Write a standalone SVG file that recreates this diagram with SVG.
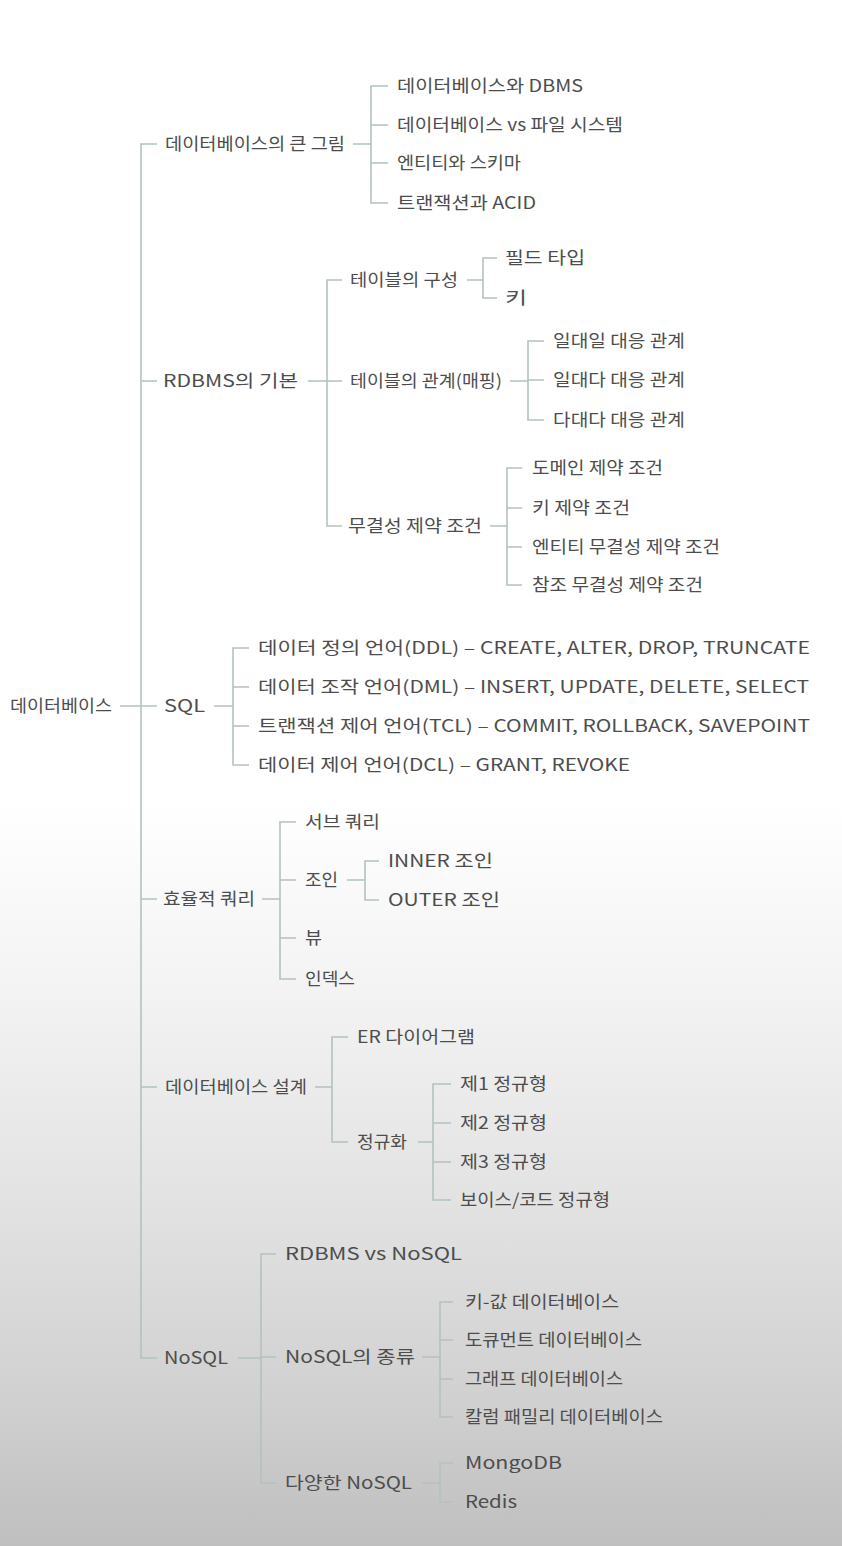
<svg xmlns="http://www.w3.org/2000/svg" width="842" height="1546" viewBox="0 0 842 1546">
<defs>
<linearGradient id="bg" x1="0" y1="0" x2="0" y2="1546" gradientUnits="userSpaceOnUse">
<stop offset="0" stop-color="#ffffff"/>
<stop offset="0.52" stop-color="#ffffff"/>
<stop offset="0.65" stop-color="#f2f2f2"/>
<stop offset="0.78" stop-color="#e2e2e2"/>
<stop offset="0.9" stop-color="#d1d1d1"/>
<stop offset="1" stop-color="#bfbfbf"/>
</linearGradient>
<style>
text{font-family:"Noto Sans CJK KR","Noto Sans",sans-serif;font-size:17px;fill:#4d4d4d;}
.c path{fill:none;stroke:#b3c2bf;stroke-width:1.6;}
</style>
</defs>
<rect x="0" y="0" width="842" height="1546" fill="url(#bg)"/>
<g class="c" id="connectors">
<path d="M120 706 H141 M157 144 H141 V1358 H157 M141 381 H157 M141 706 H157 M141 899 H157 M141 1087 H157"/>
<path d="M353 144 H371 M388 86 H371 V203 H388 M371 125 H388 M371 163 H388"/>
<path d="M308 381 H327 M342 280 H327 V526 H342 M327 381 H342"/>
<path d="M467 280 H483 M497 258 H483 V298 H497"/>
<path d="M510 381 H528 M544 341 H528 V420 H544 M528 380 H544"/>
<path d="M490 526 H507 M522 468 H507 V585 H522 M507 508 H522 M507 547 H522"/>
<path d="M214 706 H233 M249 648 H233 V765 H249 M233 687 H249 M233 726 H249"/>
<path d="M262 899 H280 M296 822 H280 V979 H296 M280 880 H296 M280 938 H296"/>
<path d="M347 880 H365 M379 861 H365 V900 H379"/>
<path d="M315 1087 H332 M348 1037 H332 V1142 H348"/>
<path d="M418 1142 H433 M451 1084 H433 V1200 H451 M433 1123 H451 M433 1162 H451"/>
<path d="M238 1358 H261 M276 1254 H261 V1483 H276 M261 1357 H276"/>
<path d="M422 1357 H440 M453 1302 H440 V1417 H453 M440 1340 H453 M440 1379 H453"/>
<path d="M422 1483 H440 M453 1463 H440 V1502 H453"/>
</g>
<g id="n-root"><text x="10" y="712" textLength="102" lengthAdjust="spacingAndGlyphs">데이터베이스</text></g>

<g id="n-bigpic"><text x="165" y="150" textLength="180" lengthAdjust="spacingAndGlyphs">데이터베이스의 큰 그림</text></g>
<g id="n-dbms"><text x="397" y="92" textLength="186" lengthAdjust="spacingAndGlyphs">데이터베이스와 DBMS</text></g>
<g id="n-dbvsfs"><text x="397" y="131" textLength="226" lengthAdjust="spacingAndGlyphs">데이터베이스 vs 파일 시스템</text></g>
<g id="n-entity"><text x="397" y="169" textLength="124" lengthAdjust="spacingAndGlyphs">엔티티와 스키마</text></g>
<g id="n-acid"><text x="397" y="209" textLength="139" lengthAdjust="spacingAndGlyphs">트랜잭션과 ACID</text></g>

<g id="n-rdbms"><text x="163" y="387" textLength="135" lengthAdjust="spacingAndGlyphs">RDBMS의 기본</text></g>
<g id="n-tcomp"><text x="350" y="286" textLength="108" lengthAdjust="spacingAndGlyphs">테이블의 구성</text></g>
<g id="n-ftype"><text x="505" y="264" textLength="80" lengthAdjust="spacingAndGlyphs">필드 타입</text></g>
<g id="n-key"><text x="505" y="304" textLength="22" lengthAdjust="spacingAndGlyphs">키</text></g>
<g id="n-trel"><text x="350" y="387" textLength="152" lengthAdjust="spacingAndGlyphs">테이블의 관계(매핑)</text></g>
<g id="n-11"><text x="553" y="347" textLength="132" lengthAdjust="spacingAndGlyphs">일대일 대응 관계</text></g>
<g id="n-1n"><text x="553" y="386" textLength="132" lengthAdjust="spacingAndGlyphs">일대다 대응 관계</text></g>
<g id="n-nn"><text x="553" y="426" textLength="132" lengthAdjust="spacingAndGlyphs">다대다 대응 관계</text></g>
<g id="n-integ"><text x="348" y="532" textLength="134" lengthAdjust="spacingAndGlyphs">무결성 제약 조건</text></g>
<g id="n-dom"><text x="532" y="474" textLength="131" lengthAdjust="spacingAndGlyphs">도메인 제약 조건</text></g>
<g id="n-keyc"><text x="532" y="514" textLength="98" lengthAdjust="spacingAndGlyphs">키 제약 조건</text></g>
<g id="n-entc"><text x="532" y="553" textLength="188" lengthAdjust="spacingAndGlyphs">엔티티 무결성 제약 조건</text></g>
<g id="n-refc"><text x="532" y="591" textLength="171" lengthAdjust="spacingAndGlyphs">참조 무결성 제약 조건</text></g>

<g id="n-sql"><text x="164" y="712" textLength="41" lengthAdjust="spacingAndGlyphs">SQL</text></g>
<g id="n-ddl"><text x="258" y="654" textLength="552" lengthAdjust="spacingAndGlyphs">데이터 정의 언어(DDL) – CREATE, ALTER, DROP, TRUNCATE</text></g>
<g id="n-dml"><text x="258" y="693" textLength="551" lengthAdjust="spacingAndGlyphs">데이터 조작 언어(DML) – INSERT, UPDATE, DELETE, SELECT</text></g>
<g id="n-tcl"><text x="258" y="732" textLength="552" lengthAdjust="spacingAndGlyphs">트랜잭션 제어 언어(TCL) – COMMIT, ROLLBACK, SAVEPOINT</text></g>
<g id="n-dcl"><text x="258" y="771" textLength="372" lengthAdjust="spacingAndGlyphs">데이터 제어 언어(DCL) – GRANT, REVOKE</text></g>

<g id="n-effq"><text x="163" y="905" textLength="92" lengthAdjust="spacingAndGlyphs">효율적 쿼리</text></g>
<g id="n-subq"><text x="305" y="828" textLength="75" lengthAdjust="spacingAndGlyphs">서브 쿼리</text></g>
<g id="n-join"><text x="305" y="886" textLength="33" lengthAdjust="spacingAndGlyphs">조인</text></g>
<g id="n-inner"><text x="388" y="867" textLength="105" lengthAdjust="spacingAndGlyphs">INNER 조인</text></g>
<g id="n-outer"><text x="388" y="906" textLength="112" lengthAdjust="spacingAndGlyphs">OUTER 조인</text></g>
<g id="n-view"><text x="305" y="944" textLength="17" lengthAdjust="spacingAndGlyphs">뷰</text></g>
<g id="n-index"><text x="305" y="985" textLength="50" lengthAdjust="spacingAndGlyphs">인덱스</text></g>

<g id="n-design"><text x="165" y="1093" textLength="142" lengthAdjust="spacingAndGlyphs">데이터베이스 설계</text></g>
<g id="n-er"><text x="357" y="1043" textLength="118" lengthAdjust="spacingAndGlyphs">ER 다이어그램</text></g>
<g id="n-norm"><text x="357" y="1148" textLength="50" lengthAdjust="spacingAndGlyphs">정규화</text></g>
<g id="n-nf1"><text x="460" y="1090" textLength="87" lengthAdjust="spacingAndGlyphs">제1 정규형</text></g>
<g id="n-nf2"><text x="460" y="1129" textLength="87" lengthAdjust="spacingAndGlyphs">제2 정규형</text></g>
<g id="n-nf3"><text x="460" y="1168" textLength="87" lengthAdjust="spacingAndGlyphs">제3 정규형</text></g>
<g id="n-bcnf"><text x="460" y="1206" textLength="150" lengthAdjust="spacingAndGlyphs">보이스/코드 정규형</text></g>

<g id="n-nosql"><text x="164" y="1364" textLength="64" lengthAdjust="spacingAndGlyphs">NoSQL</text></g>
<g id="n-rvn"><text x="285" y="1260" textLength="177" lengthAdjust="spacingAndGlyphs">RDBMS vs NoSQL</text></g>
<g id="n-kinds"><text x="285" y="1363" textLength="130" lengthAdjust="spacingAndGlyphs">NoSQL의 종류</text></g>
<g id="n-kv"><text x="465" y="1308" textLength="154" lengthAdjust="spacingAndGlyphs">키-값 데이터베이스</text></g>
<g id="n-doc"><text x="465" y="1346" textLength="177" lengthAdjust="spacingAndGlyphs">도큐먼트 데이터베이스</text></g>
<g id="n-graph"><text x="465" y="1385" textLength="158" lengthAdjust="spacingAndGlyphs">그래프 데이터베이스</text></g>
<g id="n-col"><text x="465" y="1423" textLength="198" lengthAdjust="spacingAndGlyphs">칼럼 패밀리 데이터베이스</text></g>
<g id="n-various"><text x="285" y="1489" textLength="127" lengthAdjust="spacingAndGlyphs">다양한 NoSQL</text></g>
<g id="n-mongo"><text x="465" y="1469" textLength="97" lengthAdjust="spacingAndGlyphs">MongoDB</text></g>
<g id="n-redis"><text x="465" y="1508" textLength="52" lengthAdjust="spacingAndGlyphs">Redis</text></g>
</svg>
